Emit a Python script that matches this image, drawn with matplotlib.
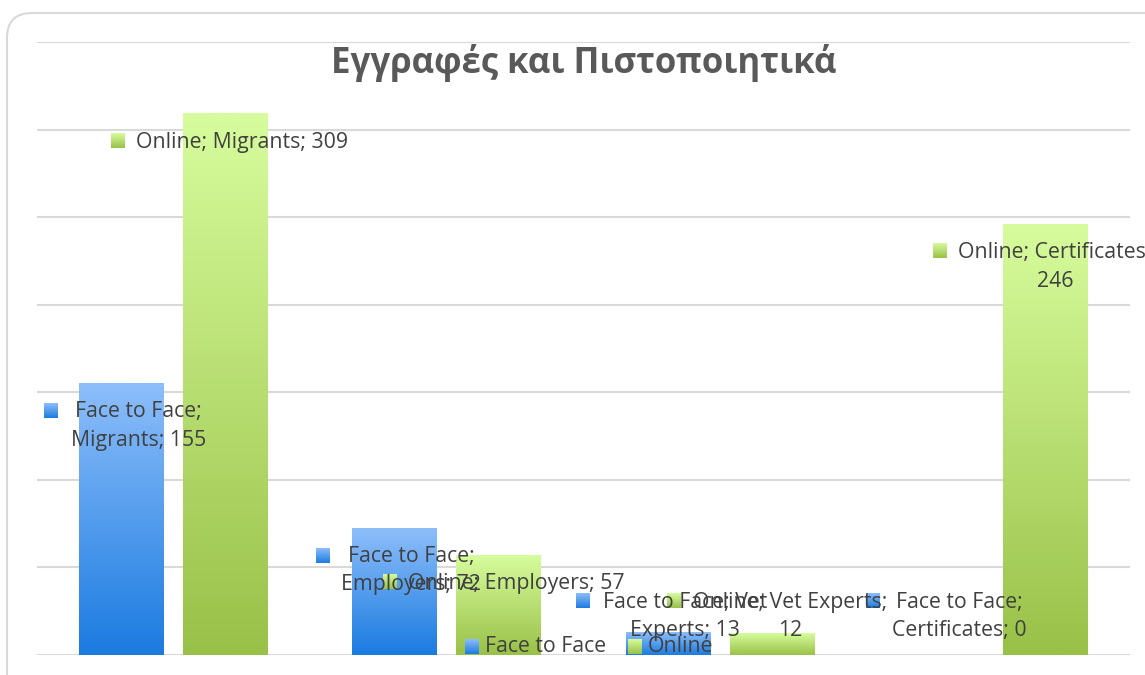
import textwrap
import numpy as np
import matplotlib
matplotlib.use('Agg')
import matplotlib.pyplot as plt
from matplotlib.colors import LinearSegmentedColormap
from matplotlib.patches import FancyBboxPatch

title = 'Εγγραφές και Πιστοποιητικά'
categories = ['Migrants', 'Employers', 'Vet Experts', 'Certificates']
series_names = ['Face to Face', 'Online']
face_to_face = [155, 72, 13, 0]
online = [309, 57, 12, 246]

# data label layout (Excel placed them by hand): text centre x, y, key centre x, y
ftf_label_pos = [(-0.128, 130.8, -0.449, 139.3), (0.870, 48.2, 0.547, 56.5),
                 (1.871, 22.0, 1.498, 30.8), (2.874, 22.0, 2.560, 30.8)]
onl_label_pos = [(0.252, 292.9, -0.204, 293.5), (1.255, 41.1, 0.792, 41.7),
                 (2.256, 22.0, 1.831, 30.8), (3.226, 221.5, 2.805, 230.7)]
ftf_wrap = [15, 15, 17, 15]
onl_wrap = [30, 30, 20, 21]

FONT = 'Open Sans'
TXT = '#404040'
GRID = '#d9d9d9'

blue = LinearSegmentedColormap.from_list('b', ['#1b7be0', '#8dbefa'])
green = LinearSegmentedColormap.from_list('g', ['#99c148', '#d7fc9d'])
grad = np.linspace(0, 1, 256).reshape(-1, 1)


def grad_rect(ax, x0, x1, y0, y1, cmap, z=2):
    ax.imshow(grad, cmap=cmap, origin='lower', aspect='auto',
              extent=[x0, x1, y0, y1], zorder=z, interpolation='bilinear')


def main():
    fig = plt.figure(figsize=(11.45, 6.75), dpi=100, facecolor='white')
    border = FancyBboxPatch((0.07, -0.4), 11.8, 7.02,
                            boxstyle='round,pad=0,rounding_size=0.25',
                            transform=fig.dpi_scale_trans, facecolor='none',
                            edgecolor=GRID, lw=1.5, zorder=-1)
    fig.patches.append(border)

    ax = fig.add_axes([37 / 1145, 20 / 675, 1093 / 1145, 613 / 675])
    ax.set_facecolor('none')
    x = np.arange(len(categories))
    w = 0.311
    off = 0.19
    for i in range(len(categories)):
        for val, dx, cmap in ((face_to_face[i], -off, blue), (online[i], off, green)):
            if val > 0:
                grad_rect(ax, x[i] + dx - w / 2, x[i] + dx + w / 2, 0, val, cmap)

    ks_x, ks_y = 0.0256, 4.0
    for vals, name, pos, wraps, cmap in ((face_to_face, series_names[0], ftf_label_pos, ftf_wrap, blue),
                                         (online, series_names[1], onl_label_pos, onl_wrap, green)):
        for i, v in enumerate(vals):
            tx, ty, sx, sy = pos[i]
            label = textwrap.fill(f'{name}; {categories[i]}; {v}', wraps[i])
            grad_rect(ax, sx - ks_x, sx + ks_x, sy - ks_y, sy + ks_y, cmap, z=4)
            ax.text(tx, ty, label, ha='center', va='center', multialignment='center',
                    fontsize=15.3, color=TXT, family=FONT, zorder=5, clip_on=False,
                    linespacing=1.45)

    # legend at the bottom
    for sx, tx, cmap, name in ((1.092, 1.1395, blue, series_names[0]),
                               (1.6885, 1.736, green, series_names[1])):
        grad_rect(ax, sx - ks_x, sx + ks_x, 4.85 - ks_y, 4.85 + ks_y, cmap, z=4)
        ax.text(tx, 4.6, name, ha='left', va='center', fontsize=15.3, color=TXT,
                family=FONT, zorder=5)

    ax.set_xlim(-0.5, 3.5)
    ax.set_ylim(0, 350)
    ax.set_yticks(np.arange(0, 351, 50))
    ax.yaxis.grid(True, color=GRID, lw=1.5)
    ax.set_axisbelow(True)
    ax.tick_params(left=False, bottom=False, labelleft=False, labelbottom=False)
    for s in ax.spines.values():
        s.set_visible(False)

    fig.text(584 / 1145, 1 - 73 / 675, title, ha='center', va='baseline',
             fontsize=25, fontweight='bold', color='#595959', family=FONT)

    fig.savefig('out.png', dpi=100)


if __name__ == '__main__':
    main()
